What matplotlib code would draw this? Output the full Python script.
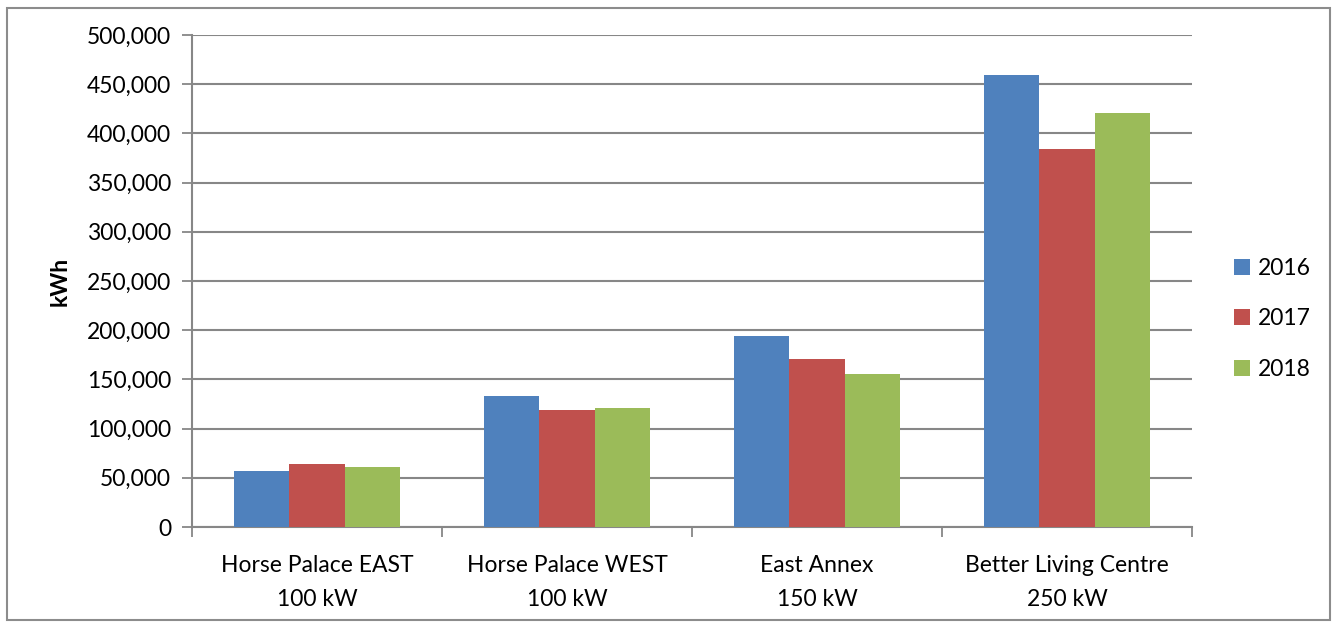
import matplotlib
matplotlib.use("Agg")
import matplotlib.pyplot as plt
from matplotlib.patches import Rectangle
from matplotlib.ticker import FuncFormatter, FixedLocator
import numpy as np

plt.rcParams['font.family'] = ['Lato', 'DejaVu Sans']

sites = ["Horse Palace EAST\n100 kW", "Horse Palace WEST\n100 kW",
         "East Annex\n150 kW", "Better Living Centre\n250 kW"]
years = ["2016", "2017", "2018"]
kwh_2016 = [56800, 132700, 194000, 458900]
kwh_2017 = [63700, 118900, 170400, 384300]
kwh_2018 = [60900, 121000, 155700, 420900]
colors = ["#4F81BD", "#C0504D", "#9BBB59"]

fig = plt.figure(figsize=(13.37, 6.28), dpi=100)
fig.patch.set_facecolor("white")
fig.patches.append(Rectangle((7 / 1337, 8 / 628), 1323 / 1337, 612 / 628,
                             transform=fig.transFigure, fill=False,
                             edgecolor="#8c8c8c", linewidth=1.5))

ax = fig.add_axes([192 / 1337, 101 / 628, 1000 / 1337, 492 / 628])
x = np.arange(len(sites))
w = 0.2222
for i, (vals, yr) in enumerate(zip([kwh_2016, kwh_2017, kwh_2018], years)):
    ax.bar(x + (i - 1) * w, vals, width=w, color=colors[i], label=yr, zorder=3)

ax.set_xlim(-0.5, len(sites) - 0.5)
ax.set_ylim(0, 500000)
ax.set_yticks(np.arange(0, 500001, 50000))
ax.yaxis.set_major_formatter(FuncFormatter(lambda v, p: f"{int(v):,}"))
ax.grid(axis="y", color="#878787", linewidth=1.5, zorder=0)
ax.set_axisbelow(True)

ax.set_xticks(x)
ax.set_xticklabels(sites, linespacing=1.75)
ax.xaxis.set_minor_locator(FixedLocator(np.arange(-0.5, len(sites), 1.0)))
ax.tick_params(axis="x", which="major", length=0, pad=20, labelsize=16.5)
ax.tick_params(axis="x", which="minor", length=7, width=1.3, color="#878787")
ax.tick_params(axis="y", length=7, width=1.3, color="#878787", labelsize=16.5, pad=8)

for s in ["top", "right"]:
    ax.spines[s].set_visible(False)
for s in ["left", "bottom"]:
    ax.spines[s].set_color("#878787")
    ax.spines[s].set_linewidth(1.5)

ax.set_ylabel("kWh", fontsize=16.5, fontweight="bold", labelpad=12)

leg = ax.legend(loc="center left", bbox_to_anchor=(1.026, 0.423), frameon=False,
                fontsize=16.5, handlelength=0.7, handleheight=0.7,
                handletextpad=0.35, labelspacing=1.3, borderaxespad=0.3)

fig.savefig("out.png", dpi=100, facecolor="white")
